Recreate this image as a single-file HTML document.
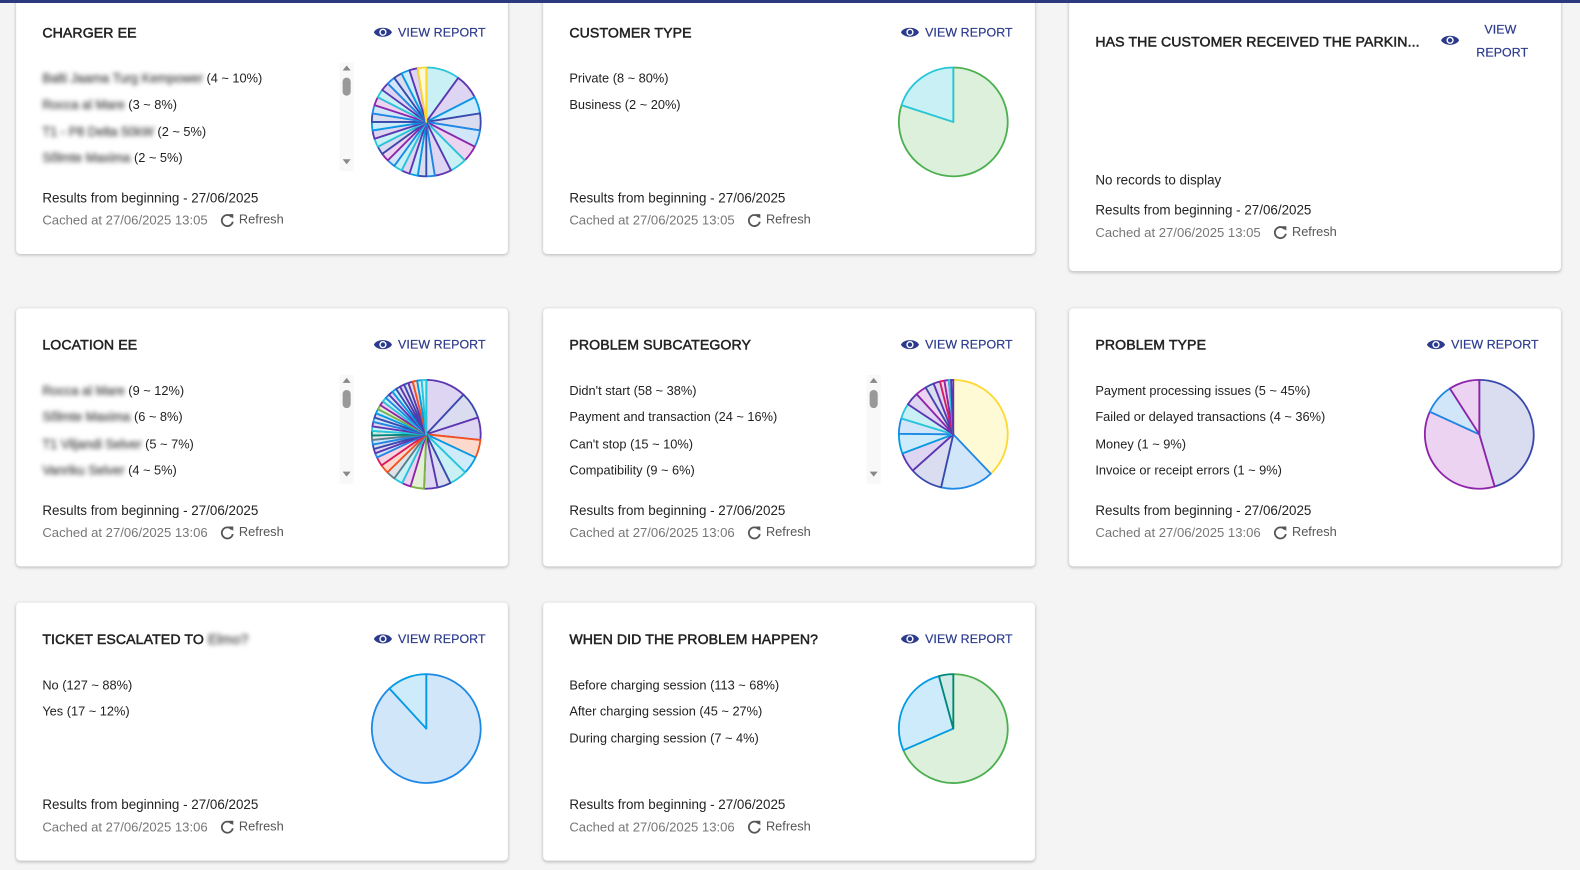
<!DOCTYPE html>
<html><head><meta charset="utf-8">
<style>
html,body{margin:0;padding:0;}
body{width:1580px;height:870px;overflow:hidden;background:#f4f4f5;position:relative;font-family:"Liberation Sans",sans-serif;color:#222;}
.topbar{position:absolute;left:0;top:0;width:1580px;height:3px;background:#2b3a7e;z-index:5;}
#root{position:absolute;left:0;top:0;width:1568px;height:863px;transform:scale(1.0077);transform-origin:0 0;}
.card{position:absolute;background:#fff;border-radius:4px;box-shadow:0 1px 3px rgba(0,0,0,0.25);}
.t{position:absolute;white-space:nowrap;height:20px;line-height:20px;}
.title{font-size:14px;font-weight:normal;-webkit-text-stroke:0.5px #222;letter-spacing:0.1px;color:#222;}
.vr{font-size:12.3px;color:#2b3a8c;letter-spacing:0.1px;-webkit-text-stroke:0.2px #2b3a8c;}
.leg{font-size:12.7px;color:#222;}
.res{font-size:13.3px;color:#222;}
.cache{font-size:13px;color:#777;}
.ref{font-size:12.7px;color:#555;}
.blur{filter:blur(2.5px);color:#555;-webkit-text-stroke:0.4px #555;}
svg{position:absolute;left:0;top:0;overflow:visible;}
</style></head>
<body>
<div class="topbar"></div>
<div id="root"></div>
<script>
const chargerValues=[4,3,2,2,2,2,2,2,1,1,1,1,1,1,1,1,1,1,1,1,1,1,1,1,1,1,1,1,1];
const chargerLegend=[["Balti Jaama Turg Kempower","(4 ~ 10%)"],["Rocca al Mare","(3 ~ 8%)"],["T1 - P8 Delta 50kW","(2 ~ 5%)"],["Sõlmte Maxima","(2 ~ 5%)"]];
const customerValues=[8,2];
const customerLegend=[["","Private (8 ~ 80%)"],["","Business (2 ~ 20%)"]];
const locationValues=[9,6,5,4,4,4,3,3,3,2,2,2,2,2,1,1,1,1,1,1,1,1,1,1,1,1,1,1,1,1,1,1,1,1,1,1,1,1];
const locationLegend=[["Rocca al Mare","(9 ~ 12%)"],["Sõlmte Maxima","(6 ~ 8%)"],["T1 Viljandi Selver","(5 ~ 7%)"],["Vanriku Selver","(4 ~ 5%)"]];
const subcatValues=[58,24,15,9,9,7,7,6,5,4,3,2,2,1,1];
const subcatLegend=[["","Didn't start (58 ~ 38%)"],["","Payment and transaction (24 ~ 16%)"],["","Can't stop (15 ~ 10%)"],["","Compatibility (9 ~ 6%)"]];
const typeValues=[5,4,1,1];
const typeLegend=[["","Payment processing issues (5 ~ 45%)"],["","Failed or delayed transactions (4 ~ 36%)"],["","Money (1 ~ 9%)"],["","Invoice or receipt errors (1 ~ 9%)"]];
const escValues=[127,17];
const escLegend=[["","No (127 ~ 88%)"],["","Yes (17 ~ 12%)"]];
const whenValues=[113,45,7];
const whenLegend=[["","Before charging session (113 ~ 68%)"],["","After charging session (45 ~ 27%)"],["","During charging session (7 ~ 4%)"]];

const P={cyan:["#26c6da","#c9f0f5"],purple:["#5e35b1","#ddd5f1"],blue:["#1e88e5","#d2e6fa"],indigo:["#3949ab","#dadcf0"],pink:["#d81b60","#f8d3e0"],yellow:["#fdd835","#fffad6"],green:["#4caf50","#dcf0dc"],orange:["#f4511e","#fdd9cd"],teal:["#00897b","#cfe9e6"],lblue:["#039be5","#cdebfa"],gray:["#607d8b","#dde4e8"],lgreen:["#7cb342","#e3f0d6"],mag:["#8e24aa","#ecd3f1"]};
const cyc1=["cyan","purple","lblue","indigo","blue","mag","cyan","purple","blue","indigo","lblue","purple","cyan","blue","mag","indigo"];
const chargerColors=chargerValues.map((v,i)=>i===chargerValues.length-1?"yellow":cyc1[i%cyc1.length]);
const cyc2=["purple","indigo","purple","orange","lblue","cyan","indigo","purple","lgreen","mag","cyan","gray","orange","pink","blue","purple","indigo","blue","gray","teal","cyan","purple","blue","indigo","lblue","lgreen","mag","cyan","blue","purple","lblue","indigo"];
const locationColors=locationValues.map((v,i)=>cyc2[i%cyc2.length]);
const subcatColors=["yellow","blue","indigo","purple","lblue","blue","cyan","purple","mag","indigo","purple","pink","mag","cyan","purple"];

const root=document.getElementById('root');
function el(tag,cls,parent){const e=document.createElement(tag);if(cls)e.className=cls;parent.appendChild(e);return e;}
function txt(parent,cls,x,y,s){const e=el('div','t '+cls,parent);e.style.left=x+'px';e.style.top=(y-10)+'px';e.textContent=s;return e;}
const NS="http://www.w3.org/2000/svg";
function pie(card,values,colors,cx,cy,r){
  const svg=document.createElementNS(NS,'svg');svg.setAttribute('width','1');svg.setAttribute('height','1');
  
  
  card.appendChild(svg);
  const tot=values.reduce((a,b)=>a+b,0);let a0=0;
  values.forEach((v,i)=>{
    const a1=a0+v/tot*Math.PI*2;
    const x0=cx+r*Math.sin(a0),y0=cy-r*Math.cos(a0),x1=cx+r*Math.sin(a1),y1=cy-r*Math.cos(a1);
    const p=document.createElementNS(NS,'path');
    const large=(a1-a0)>Math.PI?1:0;
    p.setAttribute('d',`M${cx},${cy} L${x0.toFixed(2)},${y0.toFixed(2)} A${r},${r} 0 ${large} 1 ${x1.toFixed(2)},${y1.toFixed(2)} Z`);
    const c=P[colors[i]];
    p.setAttribute('fill',c[1]);p.setAttribute('stroke',c[0]);p.setAttribute('stroke-width','1.8');p.setAttribute('stroke-linejoin','round');
    
    
    svg.appendChild(p);a0=a1;
  });
}
function eye(card,x,y){
  const s=document.createElementNS(NS,'svg');s.style.left=x+'px';s.style.top=(y-7)+'px';s.setAttribute('width','20');s.setAttribute('height','14');
  s.innerHTML='<path d="M1,7 C4,1 16,1 19,7 C16,13 4,13 1,7 Z" fill="#2b3a8c"/><circle cx="10" cy="7" r="3.6" fill="#fff"/><circle cx="10" cy="7" r="2.2" fill="#2b3a8c"/>';
  
  
  card.appendChild(s);
}
function refreshIcon(card,x,y){
  const s=document.createElementNS(NS,'svg');s.style.left=x+'px';s.style.top=(y-8)+'px';s.setAttribute('width','15');s.setAttribute('height','15');
  s.innerHTML='<path d="M12,4.5 A5.5,5.5 0 1 0 13,9" fill="none" stroke="#555" stroke-width="1.8"/><path d="M9,1.5 L13.5,1.5 L13.5,6 Z" fill="#555"/>';
  
  
  card.appendChild(s);
}
function footer(card,yr,date,time){
  const r=txt(card,'res',26,yr,'Results from beginning - '+date);
  
  
  const c=txt(card,'cache',26,yr+22,'Cached at '+date+' '+time);
  
  
  const w=c.getBoundingClientRect().width/1.0077;
  refreshIcon(card,26+w+12,yr+22);
  const f=txt(card,'ref',26+w+31,yr+21,'Refresh');
  
  
}
function scrollbar(card,y){
  const s=document.createElementNS(NS,'svg');s.style.left='321px';s.style.top=(y)+'px';s.setAttribute('width','14');s.setAttribute('height','108');
  s.innerHTML='<rect x="0" y="0" width="14" height="108" fill="#f8f8f8"/><path d="M3,8 L11,8 L7,3 Z" fill="#888"/><rect x="3" y="15" width="8" height="18" rx="4" fill="#999"/><path d="M3,96 L11,96 L7,101 Z" fill="#888"/>';
  
  
  card.appendChild(s);
}
function makeCard(name,left,top,h,title,legend,values,colors,scroll,date,time){
  const card=el('div','card',root);card.style.left=left+'px';card.style.top=top+'px';card.style.width='488px';card.style.height=h+'px';
  
  
  const t=txt(card,'title',26,36,'');
  
  
  title.forEach(part=>{const sp=el('span',part[1]?'blur':'',t);sp.textContent=part[0];});
  eye(card,354,36);
  const v=txt(card,'vr',379,36,'VIEW REPORT');
  
  
  legend.forEach((l,i)=>{
    const e=txt(card,'leg',26,82+i*26.3,'');
    
    
    if(l[0]){const b=el('span','blur',e);b.textContent=l[0]+' ';}
    const s=el('span','',e);s.textContent=l[1];
  });
  if(scroll)scrollbar(card,66);
  pie(card,values,colors,407,125,54);
  footer(card,201,date,time);
}
const D='27/06/2025';
makeCard('charger-ee-card',16,-4,256,[['CHARGER EE']],chargerLegend,chargerValues,chargerColors,true,D,'13:05');
makeCard('customer-type-card',539,-4,256,[['CUSTOMER TYPE']],customerLegend,customerValues,['green','cyan'],false,D,'13:05');
makeCard('location-ee-card',16,306,256,[['LOCATION EE']],locationLegend,locationValues,locationColors,true,D,'13:06');
makeCard('problem-subcategory-card',539,306,256,[['PROBLEM SUBCATEGORY']],subcatLegend,subcatValues,subcatColors,true,D,'13:06');
makeCard('problem-type-card',1061,306,256,[['PROBLEM TYPE']],typeLegend,typeValues,['indigo','mag','blue','mag'],false,D,'13:06');
makeCard('ticket-escalated-card',16,598,256,[['TICKET ESCALATED TO '],['Elmo?',1]],escLegend,escValues,['blue','lblue'],false,D,'13:06');
makeCard('when-problem-card',539,598,256,[['WHEN DID THE PROBLEM HAPPEN?']],whenLegend,whenValues,['green','lblue','teal'],false,D,'13:06');
(function(){
  const card=el('div','card',root);card.style.left='1061px';card.style.top='-4px';card.style.width='488px';card.style.height='273px';
  
  
  const t=txt(card,'title',26,45,'HAS THE CUSTOMER RECEIVED THE PARKIN...');
  
  
  eye(card,368,44);
  const v1=txt(card,'vr',412,33,'VIEW');
  
  
  const v2=txt(card,'vr',404,56,'REPORT');
  
  
  const n=txt(card,'res',26,183,'No records to display');
  
  
  footer(card,213,D,'13:05');
})();
</script>
</body></html>
